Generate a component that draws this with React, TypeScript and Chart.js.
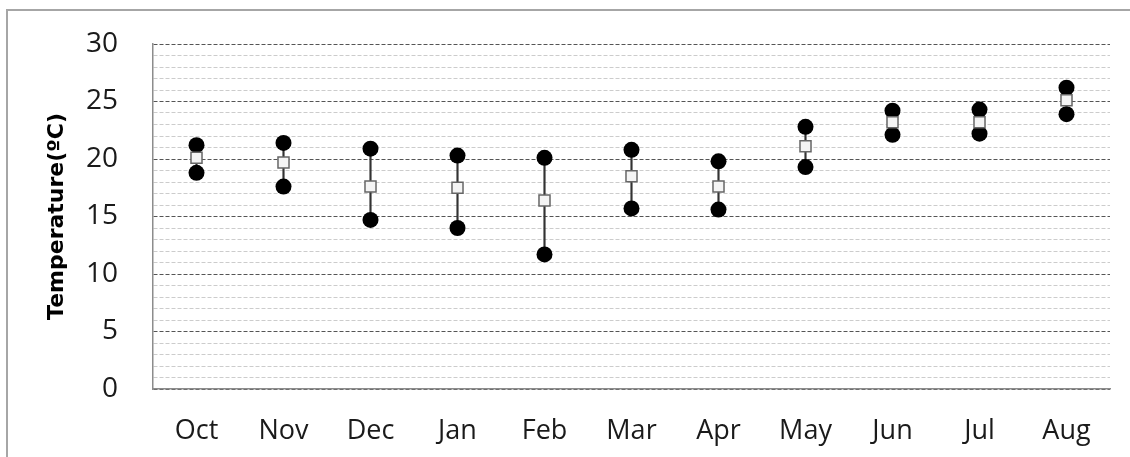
import React, { useEffect, useRef } from "react";
import { Chart, registerables } from "chart.js";

Chart.register(...registerables);

const categories = ["Oct", "Nov", "Dec", "Jan", "Feb", "Mar", "Apr", "May", "Jun", "Jul", "Aug"];
const maxTemps = [21.2, 21.4, 20.9, 20.3, 20.1, 20.8, 19.8, 22.8, 24.2, 24.3, 26.2];
const minTemps = [18.8, 17.6, 14.7, 14.0, 11.7, 15.7, 15.6, 19.3, 22.1, 22.2, 23.9];
const meanTemps = [20.1, 19.7, 17.6, 17.5, 16.4, 18.5, 17.6, 21.1, 23.2, 23.2, 25.1];
const yMin = 0;
const yMax = 30;
const yStep = 1;
const yLabelEvery = 5;
const yTitle = "Temperature(ºC)";

export default function App() {
  const canvasRef = useRef<HTMLCanvasElement | null>(null);

  useEffect(() => {
    const canvas = canvasRef.current;
    if (!canvas) return;
    const ranges = categories.map((_, i) => [minTemps[i], maxTemps[i]]);
    const chart = new Chart(canvas, {
      type: "bar",
      data: {
        labels: categories,
        datasets: [
          {
            type: "bar",
            label: "range",
            data: ranges as any,
            backgroundColor: "#333333",
            borderWidth: 0,
            barThickness: 1.5,
            order: 3,
          },
          {
            type: "line",
            label: "max",
            data: maxTemps,
            showLine: false,
            pointStyle: "circle",
            pointRadius: 8,
            pointBackgroundColor: "#000000",
            pointBorderColor: "#000000",
            pointBorderWidth: 0,
            order: 2,
          },
          {
            type: "line",
            label: "min",
            data: minTemps,
            showLine: false,
            pointStyle: "circle",
            pointRadius: 8,
            pointBackgroundColor: "#000000",
            pointBorderColor: "#000000",
            pointBorderWidth: 0,
            order: 2,
          },
          {
            type: "line",
            label: "mean",
            data: meanTemps,
            showLine: false,
            pointStyle: "rect",
            pointRadius: 7.8,
            pointBackgroundColor: "#f4f4f4",
            pointBorderColor: "#666666",
            pointBorderWidth: 1.5,
            order: 1,
          },
        ],
      },
      options: {
        animation: false,
        responsive: false,
        maintainAspectRatio: false,
        layout: { padding: { left: 0, top: 44, right: 20, bottom: 0 } },
        plugins: {
          legend: { display: false },
          tooltip: { enabled: false },
          title: { display: false },
        },
        scales: {
          x: {
            type: "category",
            offset: true,
            grid: { display: false, drawTicks: false },
            border: { display: true, color: "#8c8c8c", width: 1.5 },
            ticks: {
              color: "#1a1a1a",
              font: { family: "'Open Sans'", size: 27 },
              padding: 26,
              maxRotation: 0,
              autoSkip: false,
            },
            afterFit: (axis: any) => {
              axis.height = 68;
            },
          },
          y: {
            type: "linear",
            min: yMin,
            max: yMax,
            grid: {
              drawTicks: true,
              tickLength: 32,
              tickColor: "rgba(0,0,0,0)",
              lineWidth: 1,
              color: (ctx: any) => {
                const v = ctx.tick ? ctx.tick.value : 0;
                return v % yLabelEvery === 0 ? "#555555" : "#cccccc";
              },
            },
            border: { display: true, color: "#8c8c8c", width: 1.5, dash: [4, 2] },
            ticks: {
              stepSize: yStep,
              autoSkip: false,
              color: "#1a1a1a",
              font: { family: "'Open Sans'", size: 28 },
              padding: 3,
              callback: (v: any) => (Number(v) % yLabelEvery === 0 ? String(v) : ""),
            },
            title: {
              display: true,
              text: yTitle,
              color: "#000000",
              font: { family: "'DejaVu Sans'", size: 22, weight: "bold" },
              padding: { top: 44, bottom: 0 },
            },
            afterFit: (axis: any) => {
              axis.width = 153;
            },
          },
        },
      },
    });
    return () => chart.destroy();
  }, []);

  return (
    <div
      style={{
        position: "absolute",
        left: 0,
        top: 0,
        width: 1130,
        height: 457,
        overflow: "hidden",
        background: "#ffffff",
      }}
    >
      <div
        style={{
          position: "absolute",
          left: 6,
          top: 9,
          width: 1140,
          height: 470,
          border: "2px solid #a6a6a6",
          boxSizing: "border-box",
        }}
      />
      <canvas
        ref={canvasRef}
        width={1130}
        height={457}
        style={{ position: "absolute", left: 0, top: 0, width: 1130, height: 457 }}
      />
    </div>
  );
}
